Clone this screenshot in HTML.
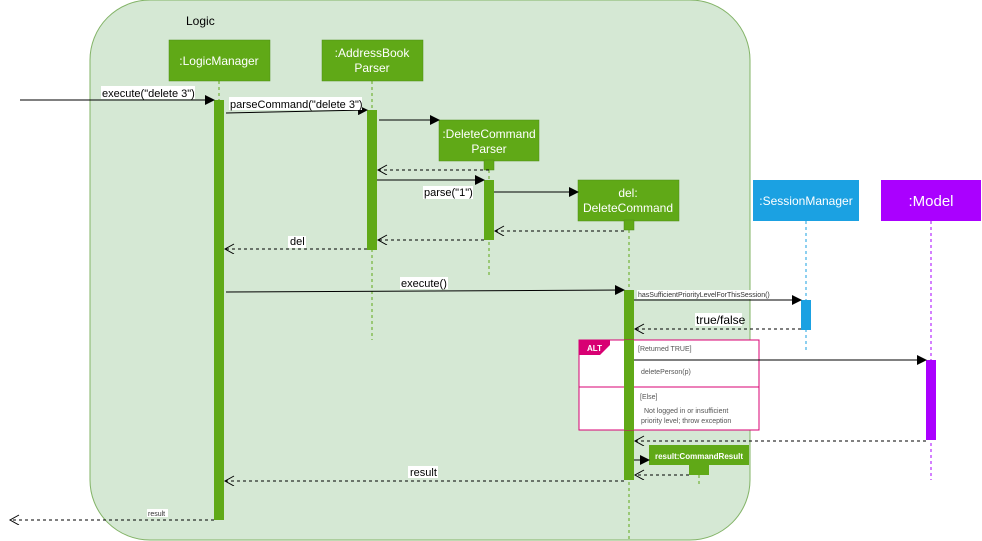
<!DOCTYPE html>
<html><head><meta charset="utf-8"><style>
html,body{margin:0;padding:0;background:#fff;}
svg{display:block;font-family:"Liberation Sans",Arial,sans-serif;}
</style></head><body>
<svg width="982" height="541" viewBox="0 0 982 541" xmlns="http://www.w3.org/2000/svg">
<defs>
<marker id="f" markerWidth="10" markerHeight="10" refX="9" refY="5" orient="auto" markerUnits="userSpaceOnUse"><path d="M0,0 L10,5 L0,10 Z" fill="#000"/></marker>
<marker id="o" markerWidth="12" markerHeight="12" refX="10" refY="5" orient="auto" markerUnits="userSpaceOnUse"><path d="M1,0 L10,5 L1,10" fill="none" stroke="#000"/></marker>
</defs>
<rect x="90" y="0" width="660" height="540" rx="60" ry="60" fill="#d5e8d4" stroke="#82b366"/>
<text x="186" y="25" font-size="12" fill="#000">Logic</text>

<g stroke="#60a917" stroke-dasharray="3,3" stroke-width="1">
<line x1="219" y1="81" x2="219" y2="520"/>
<line x1="372" y1="81" x2="372" y2="340"/>
<line x1="489" y1="170" x2="489" y2="275"/>
<line x1="629" y1="230" x2="629" y2="540"/>
<line x1="699" y1="475" x2="699" y2="485"/>
</g>
<line x1="806" y1="221" x2="806" y2="350" stroke="#1ba1e2" stroke-dasharray="3,3"/>
<line x1="931" y1="221" x2="931" y2="480" stroke="#aa00ff" stroke-dasharray="3,3"/>

<g fill="#60a917" stroke="#4d8c12" stroke-width="0.5">
<rect x="169" y="40" width="101" height="41"/>
<rect x="322" y="40" width="101" height="41"/>
<rect x="439" y="120" width="100" height="41"/>
<rect x="484" y="160" width="10" height="10"/>
<rect x="578" y="180" width="101" height="41"/>
<rect x="624" y="220" width="10" height="10"/>
</g>
<rect x="753" y="180" width="106" height="41" fill="#1ba1e2"/>
<rect x="881" y="180" width="100" height="41" fill="#aa00ff"/>
<g fill="#fff" font-size="12" text-anchor="middle">
<text x="219" y="65">:LogicManager</text>
<text x="372" y="57">:AddressBook</text><text x="372" y="72">Parser</text>
<text x="489" y="138">:DeleteCommand</text><text x="489" y="153">Parser</text>
<text x="628" y="197">del:</text><text x="628" y="212">DeleteCommand</text>
<text x="806" y="205">:SessionManager</text>
<text x="931" y="206" font-size="15">:Model</text>
</g>

<g fill="#60a917">
<rect x="214" y="100" width="10" height="420"/>
<rect x="367" y="110" width="10" height="140"/>
<rect x="484" y="180" width="10" height="60"/>
<rect x="624" y="290" width="10" height="190"/>
<rect x="649" y="445" width="100" height="20"/>
<rect x="689" y="465" width="20" height="10"/>
</g>
<rect x="801" y="300" width="10" height="30" fill="#1ba1e2"/>
<rect x="926" y="360" width="10" height="80" fill="#aa00ff"/>
<text x="699" y="459" font-size="8" fill="#fff" text-anchor="middle" font-weight="bold">result:CommandResult</text>

<rect x="579" y="340" width="180" height="90" fill="#fff" stroke="#d80073"/>
<line x1="579" y1="387" x2="759" y2="387" stroke="#d80073"/>
<path d="M579,340 L610,340 L610,345 L600,355 L579,355 Z" fill="#d80073"/>
<text x="587" y="351" font-size="8" fill="#fff" font-weight="bold">ALT</text>
<rect x="624" y="340" width="10" height="90" fill="#60a917"/>
<g font-size="7" fill="#555">
<text x="638" y="351">[Returned TRUE]</text>
<text x="641" y="374">deletePerson(p)</text>
<text x="640" y="399">[Else]</text>
<text x="644" y="413">Not logged in or insufficient</text>
<text x="641" y="423">priority level; throw exception</text>
</g>

<g stroke="#000" stroke-width="1" fill="none">
<line x1="20" y1="100" x2="214" y2="100" marker-end="url(#f)"/>
<line x1="226" y1="113" x2="367" y2="110" marker-end="url(#f)"/>
<line x1="379" y1="120" x2="439" y2="120" marker-end="url(#f)"/>
<line x1="377" y1="180" x2="484" y2="180" marker-end="url(#f)"/>
<line x1="494" y1="192" x2="578" y2="192" marker-end="url(#f)"/>
<line x1="226" y1="292" x2="624" y2="290" marker-end="url(#f)"/>
<line x1="634" y1="300" x2="801" y2="300" marker-end="url(#f)"/>
<line x1="634" y1="360" x2="926" y2="360" marker-end="url(#f)"/>
<line x1="634" y1="460" x2="649" y2="460" marker-end="url(#f)"/>
</g>
<g stroke="#000" stroke-width="1" fill="none" stroke-dasharray="3,3">
<line x1="489" y1="170" x2="378" y2="170" marker-end="url(#o)"/>
<line x1="624" y1="231" x2="495" y2="231" marker-end="url(#o)"/>
<line x1="484" y1="240" x2="378" y2="240" marker-end="url(#o)"/>
<line x1="367" y1="249" x2="225" y2="249" marker-end="url(#o)"/>
<line x1="801" y1="329" x2="635" y2="329" marker-end="url(#o)"/>
<line x1="926" y1="441" x2="635" y2="441" marker-end="url(#o)"/>
<line x1="689" y1="475" x2="635" y2="475" marker-end="url(#o)"/>
<line x1="624" y1="481" x2="225" y2="481" marker-end="url(#o)"/>
<line x1="214" y1="520" x2="10" y2="520" marker-end="url(#o)"/>
</g>

<g font-size="11" fill="#000">
<rect x="101" y="86" width="94" height="13" fill="#fff"/><text x="102" y="97">execute("delete 3")</text>
<rect x="229" y="97" width="133" height="13" fill="#fff"/><text x="230" y="108">parseCommand("delete 3")</text>
<rect x="423" y="186" width="50" height="13" fill="#fff"/><text x="424" y="196">parse("1")</text>
<rect x="288" y="236" width="18" height="12" fill="#fff"/><text x="290" y="245">del</text>
<rect x="400" y="277" width="48" height="12" fill="#fff"/><text x="401" y="287">execute()</text>
<rect x="408" y="466" width="30" height="12" fill="#fff"/><text x="410" y="476">result</text>
<rect x="695" y="313" width="47" height="13" fill="#fff"/><text x="696" y="324" font-size="12">true/false</text>
</g>
<rect x="637" y="290" width="144" height="9" fill="#fff"/>
<text x="638" y="297" font-size="7" fill="#333">hasSufficientPriorityLevelForThisSession()</text>
<rect x="147" y="509" width="21" height="8" fill="#fff"/>
<text x="148" y="516" font-size="7" fill="#333">result</text>
</svg>
</body></html>
